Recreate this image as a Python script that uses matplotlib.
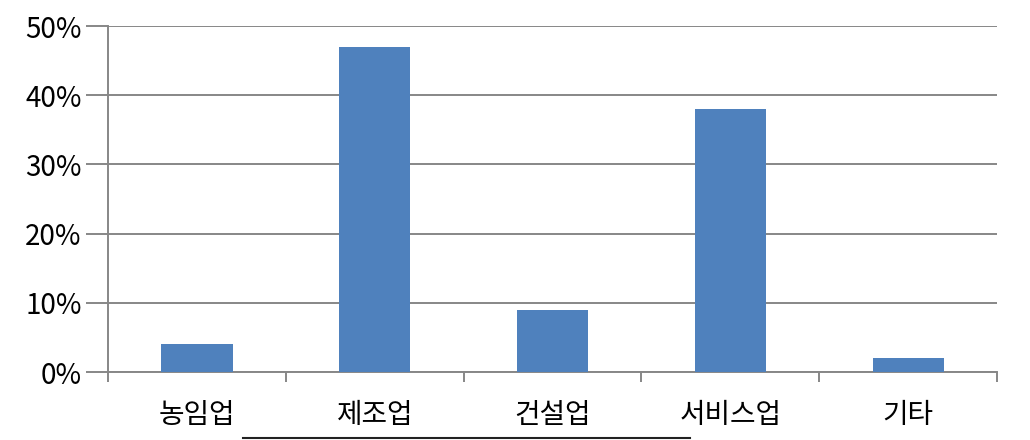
import matplotlib
matplotlib.use("Agg")
import matplotlib.pyplot as plt
from matplotlib.lines import Line2D

plt.rcParams['font.family'] = ['Noto Sans CJK KR', 'DejaVu Sans']

# 업종별 비중
categories = ["농임업", "제조업", "건설업", "서비스업", "기타"]
shares = [4, 47, 9, 38, 2]
yticks = [0, 10, 20, 30, 40, 50]

fig = plt.figure(figsize=(10.3, 4.4), dpi=100)
ax = fig.add_axes([0.1049, 0.1545, 0.8631, 0.7864])

x = list(range(len(categories)))
ax.bar(x, shares, width=0.4, color="#4F81BD", zorder=3)

ax.set_xlim(-0.5, len(categories) - 0.5)
ax.set_ylim(0, 50)
ax.set_yticks(yticks)
ax.set_yticklabels([f"{v}%" for v in yticks], fontsize=20)
ax.grid(axis="y", color="#878787", linewidth=1.4, zorder=0)

# category boundary ticks
ax.set_xticks([i - 0.5 for i in range(len(categories) + 1)])
ax.set_xticklabels([])
ax.set_xticks(x, minor=True)
ax.set_xticklabels(categories, minor=True, fontsize=20)
ax.tick_params(axis="x", which="minor", length=0, pad=20)
ax.tick_params(axis="x", which="major", length=7, width=1.4, color="#878787")
ax.tick_params(axis="y", length=16, width=1.4, color="#878787", pad=3)

for side in ["top", "right"]:
    ax.spines[side].set_visible(False)
for side in ["left", "bottom"]:
    ax.spines[side].set_color("#878787")
    ax.spines[side].set_linewidth(1.4)

# stray line at bottom of the source image
fig.add_artist(Line2D([243 / 1030, 690 / 1030], [2.5 / 440, 2.5 / 440],
                      color="#222222", linewidth=1.5))

fig.savefig("out.png", dpi=100)
